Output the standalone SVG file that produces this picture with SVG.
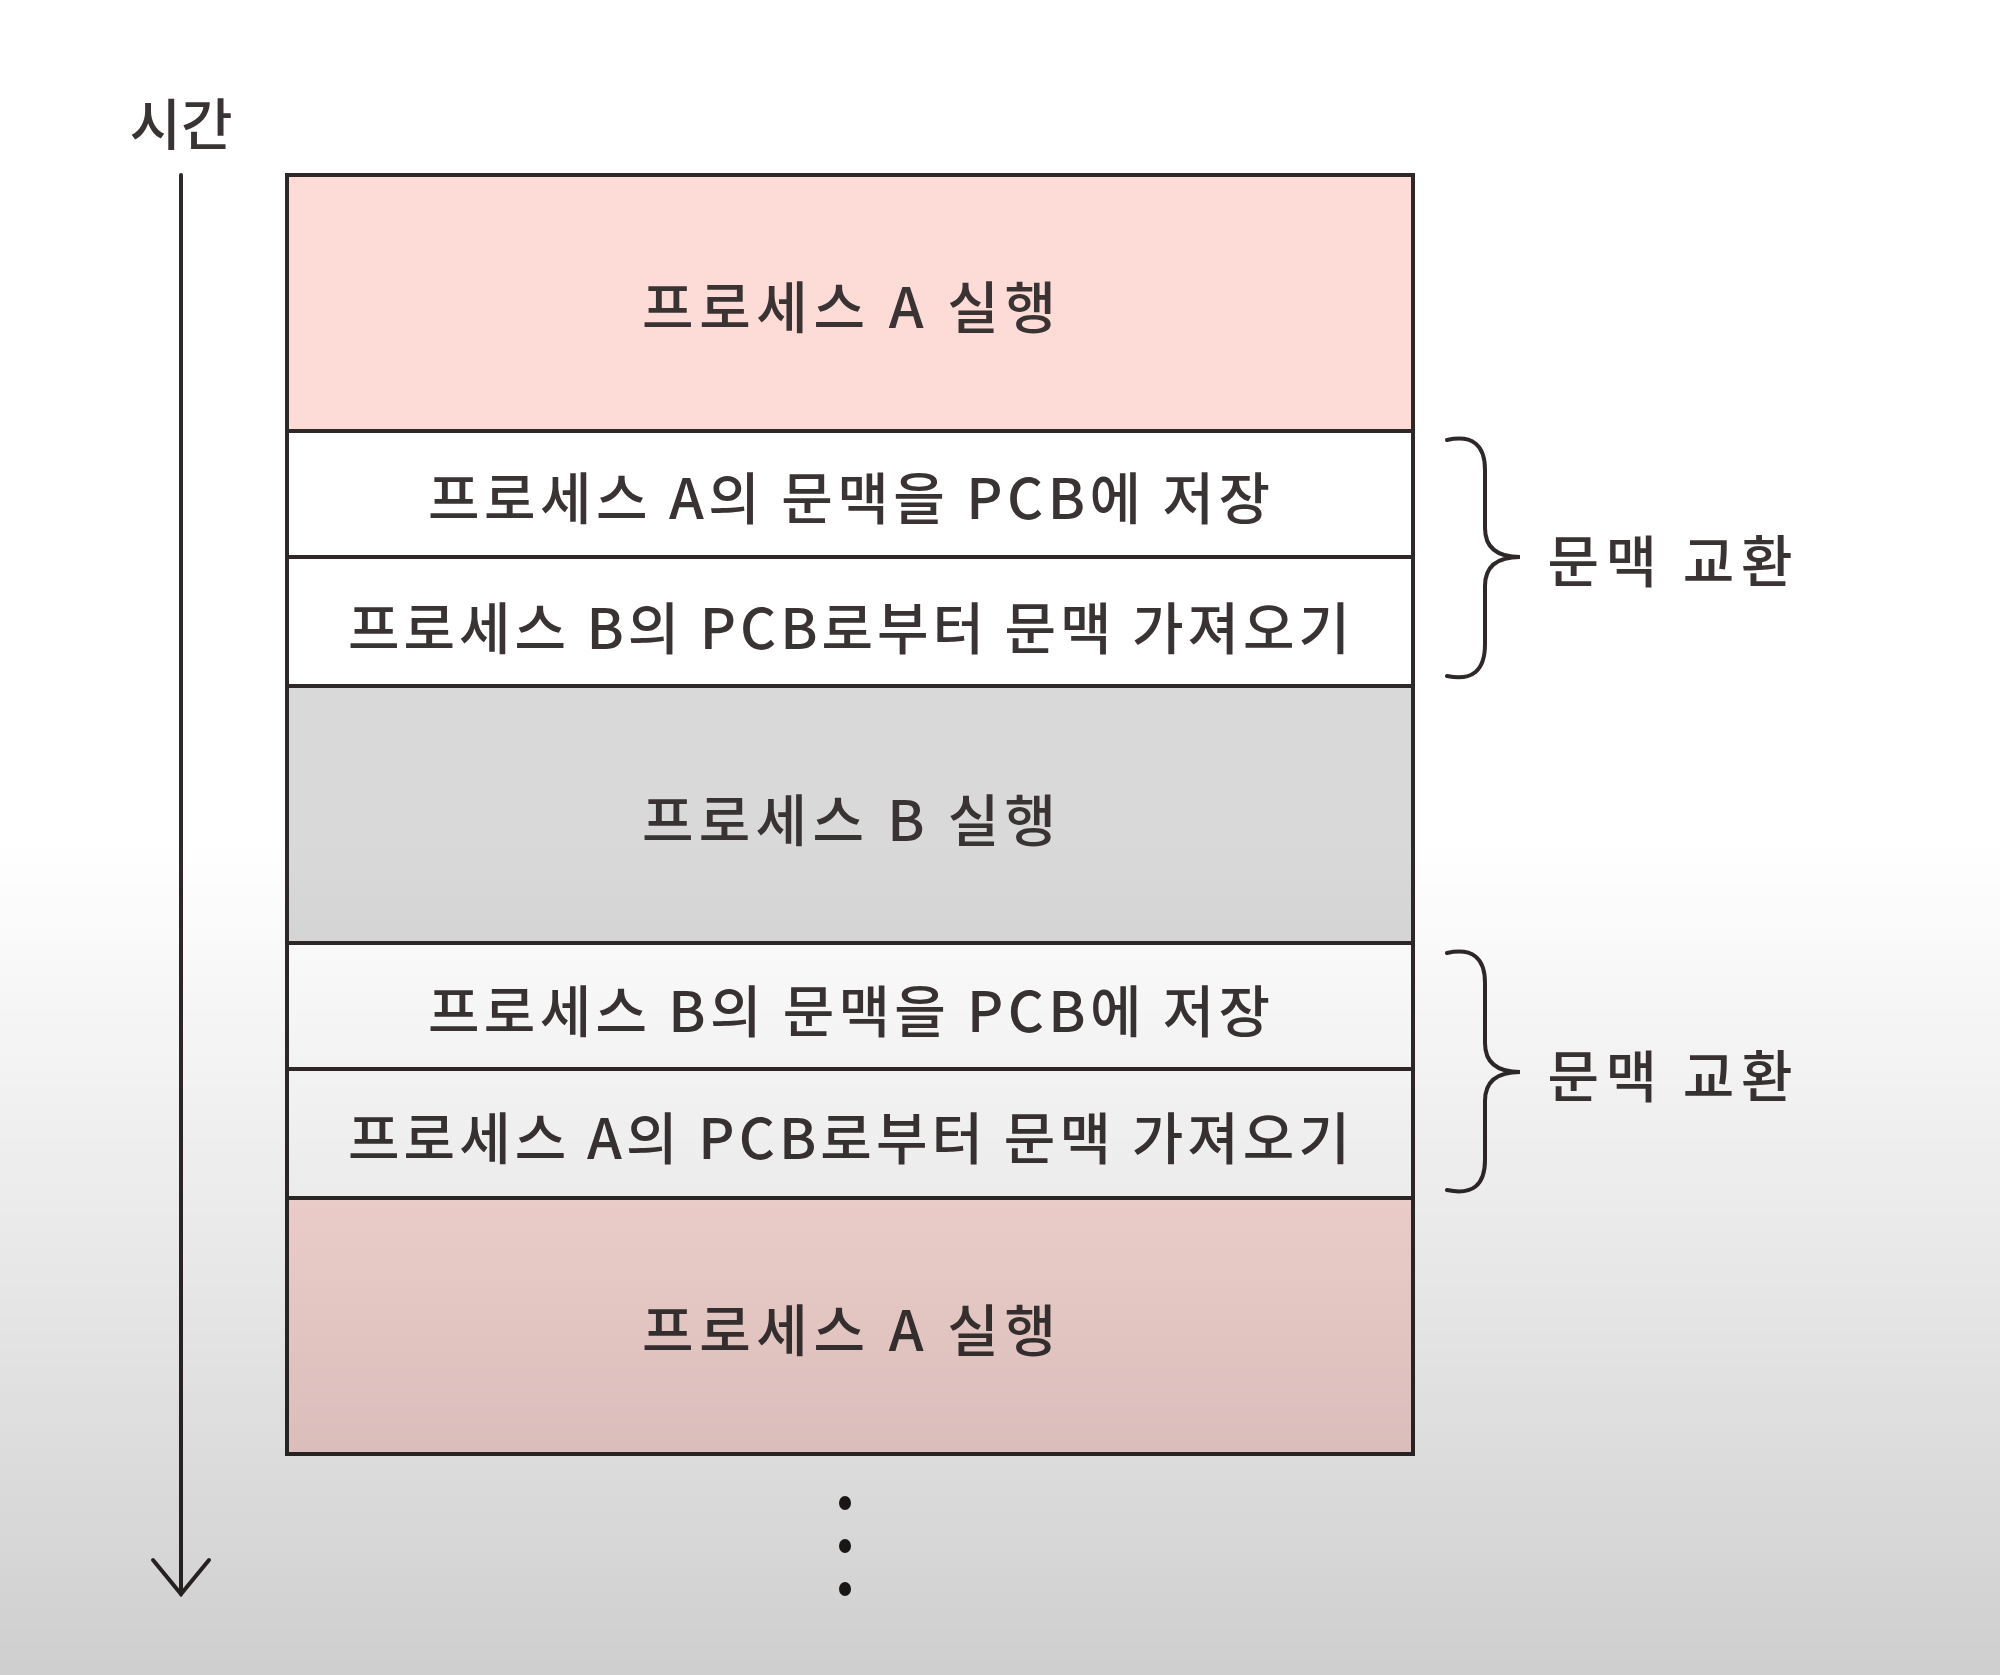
<svg xmlns="http://www.w3.org/2000/svg" width="2000" height="1675" viewBox="0 0 2000 1675">
<style>
.t{font-family:"Noto Sans CJK KR","Noto Sans",sans-serif;font-size:56px;font-weight:500;fill:#3a3333;text-anchor:middle;dominant-baseline:central}
.ln{stroke:#2e2828;stroke-width:4;fill:none;stroke-linecap:round}
.row{stroke:#2e2828;stroke-width:4}
.pink{fill:#fddcd8}
.white{fill:#ffffff}
.gray{fill:#d9d9d9}
</style>
<defs>
<linearGradient id="shade" x1="0" y1="0" x2="0" y2="1675" gradientUnits="userSpaceOnUse">
<stop offset="0" stop-color="#000" stop-opacity="0"/>
<stop offset="0.5" stop-color="#000" stop-opacity="0"/>
<stop offset="0.75" stop-color="#000" stop-opacity="0.09"/>
<stop offset="1" stop-color="#000" stop-opacity="0.19"/>
</linearGradient>
</defs>
<rect x="0" y="0" width="2000" height="1675" fill="#ffffff"/>
<g id="time-axis">
<text class="t" x="181" y="120">시간</text>
</g>
<g id="connectors">
<line class="ln" x1="181" y1="175" x2="181" y2="1594"/>
<polyline class="ln" points="153,1560 181,1594 209,1560"/>
<path id="brace1" class="ln" d="M1447,440 Q1485,432 1485,470 L1485,528 Q1485,557 1520,557 Q1485,557 1485,586 L1485,644 Q1485,684 1447,676"/>
<path id="brace2" class="ln" d="M1447,953 Q1485,945 1485,983 L1485,1043 Q1485,1072 1520,1072 Q1485,1072 1485,1101 L1485,1160 Q1485,1198 1447,1190"/>
</g>
<g id="row1"><rect class="row pink" x="287" y="175" width="1126" height="256"/><text class="t" x="849" y="303" textLength="414" lengthAdjust="spacing">프로세스 A 실행</text></g>
<g id="row2"><rect class="row white" x="287" y="431" width="1126" height="126"/><text class="t" x="849" y="494" textLength="842" lengthAdjust="spacing">프로세스 A의 문맥을 PCB에 저장</text></g>
<g id="row3"><rect class="row white" x="287" y="557" width="1126" height="129"/><text class="t" x="849" y="624" textLength="1002" lengthAdjust="spacing">프로세스 B의 PCB로부터 문맥 가져오기</text></g>
<g id="row4"><rect class="row gray" x="287" y="686" width="1126" height="257"/><text class="t" x="849" y="816" textLength="414" lengthAdjust="spacing">프로세스 B 실행</text></g>
<g id="row5"><rect class="row white" x="287" y="943" width="1126" height="126"/><text class="t" x="849" y="1007" textLength="842" lengthAdjust="spacing">프로세스 B의 문맥을 PCB에 저장</text></g>
<g id="row6"><rect class="row white" x="287" y="1069" width="1126" height="129"/><text class="t" x="849" y="1134" textLength="1002" lengthAdjust="spacing">프로세스 A의 PCB로부터 문맥 가져오기</text></g>
<g id="row7"><rect class="row pink" x="287" y="1198" width="1126" height="256"/><text class="t" x="849" y="1326" textLength="414" lengthAdjust="spacing">프로세스 A 실행</text></g>
<g id="label1"><text class="t" x="1670" y="557" textLength="245" lengthAdjust="spacing">문맥 교환</text></g>
<g id="label2"><text class="t" x="1670" y="1072" textLength="245" lengthAdjust="spacing">문맥 교환</text></g>
<g id="ellipsis">
<ellipse cx="845" cy="1503" rx="6" ry="7" fill="#1e1a1a"/>
<ellipse cx="845" cy="1546" rx="6" ry="7" fill="#1e1a1a"/>
<ellipse cx="845" cy="1589" rx="6" ry="7" fill="#1e1a1a"/>
</g>
<rect x="0" y="0" width="2000" height="1675" fill="url(#shade)" pointer-events="none"/>
</svg>
